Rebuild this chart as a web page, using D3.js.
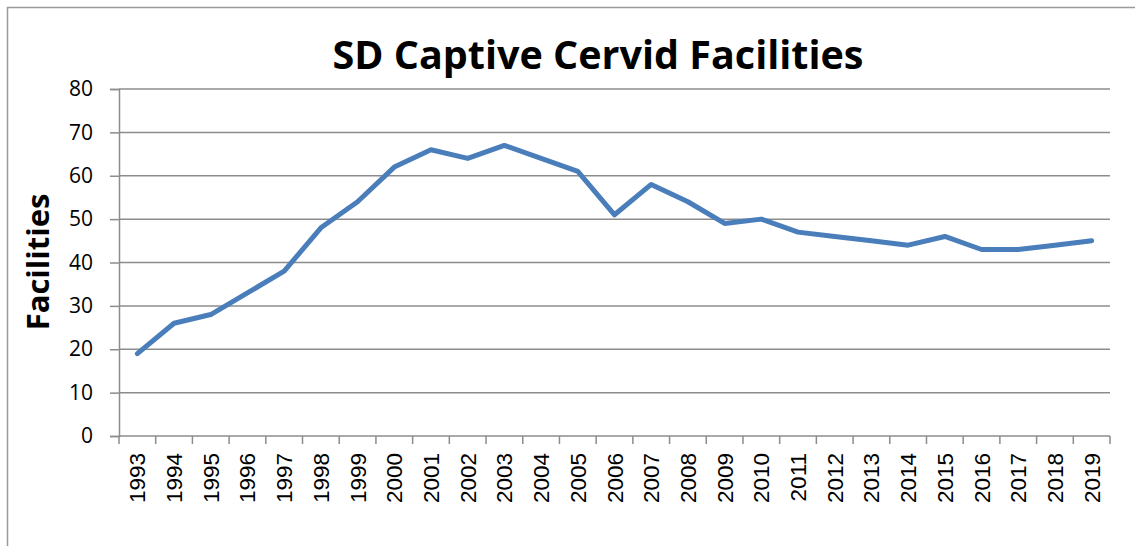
<!DOCTYPE html>
<html>
<head>
<script src="https://d3js.org/d3.v7.min.js"></script>
<style>
  body { margin: 0; background: #fff; }
</style>
</head>
<body>
<div id="chart"></div>
<script>
  const years = [1993,1994,1995,1996,1997,1998,1999,2000,2001,2002,2003,2004,2005,2006,
                 2007,2008,2009,2010,2011,2012,2013,2014,2015,2016,2017,2018,2019];
  const facilities = [19,26,28,33,38,48,54,62,66,64,67,64,61,51,
                      58,54,49,50,47,46,45,44,46,43,43,44,45];
  const yTicks = [0,10,20,30,40,50,60,70,80];

  const W = 1135, H = 546;
  const margin = {top: 89, right: 25, bottom: 110, left: 119},
      width = W - margin.left - margin.right,
      height = H - margin.top - margin.bottom;

  const svg = d3.select("#chart").append("svg")
      .attr("width", W).attr("height", H);

  // outer chart border
  svg.append("rect")
      .attr("x", 7.5).attr("y", 7.5)
      .attr("width", W + 20).attr("height", H + 20)
      .attr("fill", "none").attr("stroke", "#9a9a9a").attr("stroke-width", 1.5);

  const g = svg.append("g").attr("transform", `translate(${margin.left},${margin.top})`);

  const x = d3.scaleBand().domain(years).range([0, width]);
  const y = d3.scaleLinear().domain([0, 80]).range([height, 0]);

  // gridlines
  g.selectAll(".grid").data(yTicks.slice(1)).join("line")
      .attr("x1", 0).attr("x2", width)
      .attr("y1", d => y(d)).attr("y2", d => y(d))
      .attr("stroke", "#8c8c8c").attr("stroke-width", 1.5);

  // y axis
  const yAxis = g.append("g")
      .call(d3.axisLeft(y).tickValues(yTicks).tickSize(9).tickPadding(17));
  yAxis.select(".domain").attr("stroke", "#8c8c8c").attr("stroke-width", 1.5);
  yAxis.selectAll(".tick line").attr("stroke", "#8c8c8c").attr("stroke-width", 1.5);
  yAxis.selectAll("text")
      .style("font-family", "'Open Sans', sans-serif").style("font-size", "21px").attr("fill", "#000");

  // x axis: ticks at band boundaries
  const xAxis = g.append("g").attr("transform", `translate(0,${height})`);
  xAxis.append("line").attr("x1", 0).attr("x2", width)
      .attr("stroke", "#8c8c8c").attr("stroke-width", 1.5);
  const bounds = years.map(d => x(d)).concat([width]);
  xAxis.selectAll(".xt").data(bounds).join("line")
      .attr("x1", d => d).attr("x2", d => d).attr("y1", 0).attr("y2", 8)
      .attr("stroke", "#8c8c8c").attr("stroke-width", 1.5);
  xAxis.selectAll(".xl").data(years).join("text")
      .attr("transform", d => `translate(${x(d) + x.bandwidth() / 2 + 8},${17}) rotate(-90)`)
      .attr("text-anchor", "end")
      .style("font-family", "'Liberation Sans', Arial, sans-serif").style("font-size", "22.5px")
      .text(d => d);

  // line
  const line = d3.line()
      .x((d, i) => x(years[i]) + x.bandwidth() / 2)
      .y(d => y(d));
  g.append("path").datum(facilities)
      .attr("d", line)
      .attr("fill", "none").attr("stroke", "#4a7ebb").attr("stroke-width", 5)
      .attr("stroke-linejoin", "round").attr("stroke-linecap", "round");

  // title
  svg.append("text")
      .attr("x", 598).attr("y", 69)
      .attr("text-anchor", "middle")
      .style("font-family", "'Open Sans', sans-serif").style("font-weight", "bold").style("font-size", "39.5px")
      .text("SD Captive Cervid Facilities");

  // y axis title
  svg.append("text")
      .attr("transform", `translate(49,262) rotate(-90)`)
      .attr("text-anchor", "middle")
      .style("font-family", "'Open Sans', sans-serif").style("font-weight", "bold").style("font-size", "31px")
      .text("Facilities");
</script>
</body>
</html>
